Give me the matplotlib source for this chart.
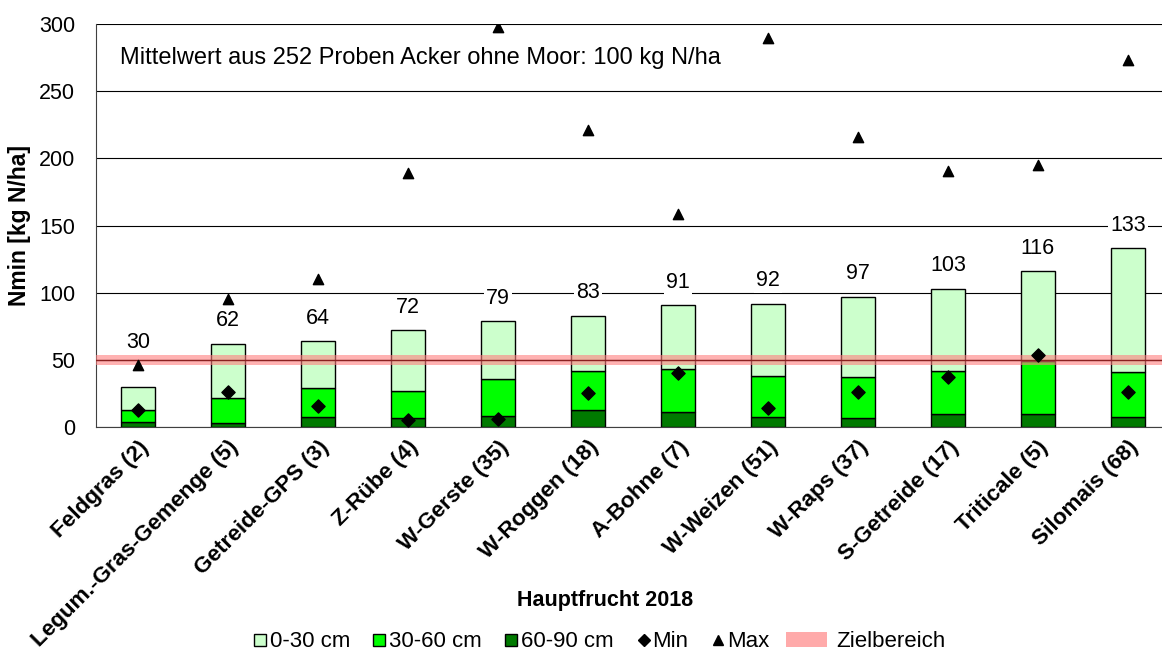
import numpy as np
import matplotlib
matplotlib.use('Agg')
import matplotlib.pyplot as plt
from matplotlib.patches import Patch, Rectangle
from matplotlib.lines import Line2D
from matplotlib.legend_handler import HandlerBase

plt.rcParams['font.family'] = ['Liberation Sans', 'DejaVu Sans']

# ------------------ Data --------------------

crops = ['Feldgras (2)', 'Legum.-Gras-Gemenge (5)', 'Getreide-GPS (3)', 'Z-Rübe (4)',
         'W-Gerste (35)', 'W-Roggen (18)', 'A-Bohne (7)', 'W-Weizen (51)',
         'W-Raps (37)', 'S-Getreide (17)', 'Triticale (5)', 'Silomais (68)']
total = [30, 62, 64, 72, 79, 83, 91, 92, 97, 103, 116, 133]
n_60_90 = [3.5, 3, 7.5, 6.5, 8, 12.5, 11, 7.5, 7, 10, 10, 7.5]
n_30_60 = [9, 18.5, 21.5, 20.5, 28, 29.5, 32.5, 30.5, 30, 31.5, 39, 33.5]
n_min = [13, 26, 16, 5, 6, 25, 40, 14, 26, 37, 54, 26]
n_max = [46, 95, 110, 189, 298, 221, 159, 290, 216, 191, 195, 273]
target_low, target_mid, target_high = 46, 50, 54

FS = 15.5

# ------------------ Legend helper --------------------

class RightMarker(HandlerBase):
    # marker drawn at the right end of the handle box, close to the text
    def create_artists(self, legend, orig, xdescent, ydescent, width, height, fontsize, trans):
        ms = orig.get_markersize()
        m = Line2D([width - xdescent - ms / 2 - 1], [height / 2 - ydescent],
                   marker=orig.get_marker(), markersize=ms,
                   markerfacecolor=orig.get_markerfacecolor(),
                   markeredgecolor=orig.get_markeredgecolor(),
                   markeredgewidth=orig.get_markeredgewidth(),
                   ls='none', transform=trans)
        return [m]

# ------------------ Plot --------------------

fig = plt.figure(figsize=(11.62, 6.53), dpi=100)
ax = fig.add_axes([0.0826, 0.346, 0.9174, 0.617])

x = np.arange(len(crops))
total = np.array(total)
deep = np.array(n_60_90)
mid = np.array(n_30_60)
top = total - deep - mid

w = 0.38
ax.bar(x, deep, w, color='#007A00', edgecolor='black', linewidth=1, zorder=2)
ax.bar(x, mid, w, bottom=deep, color='#00FF00', edgecolor='black', linewidth=1, zorder=2)
ax.bar(x, top, w, bottom=deep + mid, color='#CCFFCC', edgecolor='black', linewidth=1, zorder=2)

ax.axhspan(target_low, target_high, color='#FF8080', alpha=0.6, lw=0, zorder=3)
ax.axhline(target_mid, color='#8B2020', lw=1, zorder=3)

ax.scatter(x, n_min, marker='D', s=45, color='black', zorder=4)
ax.scatter(x, n_max, marker='^', s=55, color='black', zorder=4)

for i in range(len(crops)):
    ly = total[i] + 17
    if abs(n_max[i] - ly) < 12:
        ly = n_max[i] + 17
    ax.text(x[i], ly, str(total[i]), ha='center', va='center', fontsize=FS,
            bbox=dict(facecolor='white', edgecolor='none', pad=1.5), zorder=5)

ax.text(0.023, 0.915, 'Mittelwert aus 252 Proben Acker ohne Moor: 100 kg N/ha',
        transform=ax.transAxes, fontsize=17, va='center', ha='left',
        bbox=dict(facecolor='white', edgecolor='none', pad=2), zorder=5)

ax.set_ylim(0, 300)
ax.set_xlim(-0.467, 11.38)
ax.set_yticks(range(0, 301, 50))
ax.yaxis.grid(True, color='black', lw=0.8, zorder=0)
ax.set_axisbelow(True)
ax.tick_params(axis='both', length=0, labelsize=FS)
ax.tick_params(axis='y', pad=15)
ax.tick_params(axis='x', pad=7)
ax.set_xticks(x)
ax.set_xticklabels(crops, rotation=45, ha='right', rotation_mode='anchor',
                   fontweight='bold', fontsize=16.2)
for s in ['top', 'right']:
    ax.spines[s].set_visible(False)
ax.spines['left'].set_color('#404040')
ax.spines['bottom'].set_color('#404040')

ax.set_ylabel('Nmin [kg N/ha]', fontweight='bold', fontsize=16.5, labelpad=6)
fig.text(0.521, 0.081, 'Hauptfrucht 2018', ha='center', va='center',
         fontweight='bold', fontsize=FS)

marker_handles = [
    Line2D([], [], marker='s', ls='none', markersize=9, markerfacecolor='#CCFFCC',
           markeredgecolor='black', markeredgewidth=1, label='0-30 cm'),
    Line2D([], [], marker='s', ls='none', markersize=9, markerfacecolor='#00FF00',
           markeredgecolor='black', markeredgewidth=1, label='30-60 cm'),
    Line2D([], [], marker='s', ls='none', markersize=9, markerfacecolor='#007A00',
           markeredgecolor='black', markeredgewidth=1, label='60-90 cm'),
    Line2D([], [], marker='D', ls='none', markersize=6, markerfacecolor='black',
           markeredgecolor='black', label='Min'),
    Line2D([], [], marker='^', ls='none', markersize=7.5, markerfacecolor='black',
           markeredgecolor='black', label='Max'),
]
fig.legend(handles=marker_handles, handler_map={h: RightMarker() for h in marker_handles},
           loc='center', bbox_to_anchor=(0.44, 0.017), ncol=5, frameon=False,
           fontsize=16, handlelength=0.65, handleheight=0.6, handletextpad=0.1,
           columnspacing=1.0)
fig.legend(handles=[Patch(facecolor='#FFAAAA', edgecolor='none', label='Zielbereich')],
           loc='center', bbox_to_anchor=(0.745, 0.017), frameon=False, fontsize=16,
           handlelength=1.85, handleheight=0.65, handletextpad=0.4)

fig.savefig('out.png', dpi=100)
